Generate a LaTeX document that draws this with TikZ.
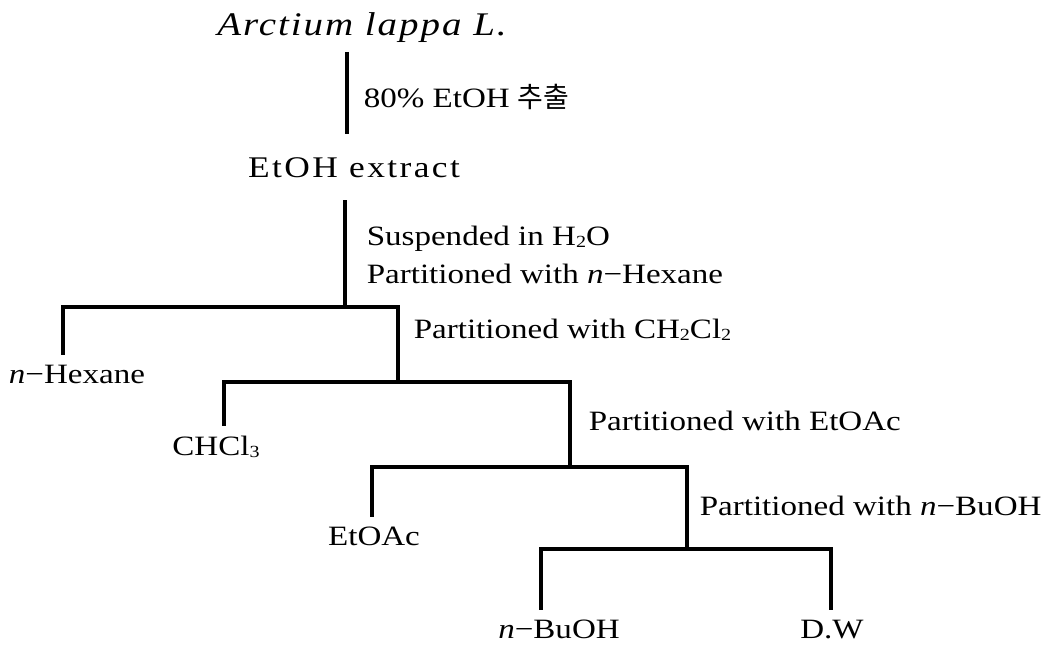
\documentclass[tikz,border=0pt]{standalone}
\usepackage{fontspec}
\setmainfont[FakeStretch=1.18]{Liberation Serif}
\newfontfamily\kofont{Noto Sans CJK KR}
\newcommand{\chemsub}[1]{\raisebox{-0.2ex}{\fontsize{17}{17}\selectfont #1}}
\begin{document}
\begin{tikzpicture}[x=1pt,y=-1pt,line width=3.6pt,font=\fontsize{28}{34}\selectfont,
    every node/.style={inner sep=0pt},
    steplabel/.style={anchor=base west},
    fraction/.style={anchor=base,inner ysep=8pt}]
  \useasboundingbox (0,0) rectangle (1043,646);
  \node[anchor=base,inner ysep=8pt,font=\fontsize{33}{36}\selectfont\itshape\addfontfeature{LetterSpace=6}] (plant) at (362,35) {Arctium lappa L.};
  \node[anchor=base,inner ysep=21pt,font=\fontsize{30}{34}\selectfont\addfontfeature{LetterSpace=8}] (extract) at (354,177) {EtOH extract};
  \node[steplabel] (ethanol) at (362,107) {80\% EtOH {\kofont 추출}};
  \node[steplabel] (suspend) at (365,245) {Suspended in H\chemsub{2}O};
  \node[steplabel] (parthex) at (365,283) {Partitioned with \textit{n}−Hexane};
  \node[steplabel] (partdcm) at (412,338) {Partitioned with CH\chemsub{2}Cl\chemsub{2}};
  \node[steplabel] (partea) at (587,430) {Partitioned with EtOAc};
  \node[steplabel] (partbu) at (698,515) {Partitioned with \textit{n}−BuOH};
  \node[fraction] (hexane) at (77,383) {\textit{n}−Hexane};
  \node[fraction] (chcl) at (216,455) {CHCl\chemsub{3}};
  \node[fraction] (etoac) at (374,545) {EtOAc};
  \node[fraction] (buoh) at (559,638) {\textit{n}−BuOH};
  \node[fraction] (dw) at (832,638) {D.W};
  % split points
  \coordinate (j0) at (345,307);
  \coordinate (j1) at (398,382);
  \coordinate (j2) at (570,467);
  \coordinate (j3) at (687,549);
  \coordinate (k0) at (63,307);
  \coordinate (k1) at (224,382);
  \coordinate (k2) at (372,467);
  \coordinate (k3) at (541,549);
  \coordinate (k4) at (831,549);
  \draw (plant.south -| 347,0) -- (extract.north -| 347,0);
  \draw (extract.south -| j0) -- (j0);
  \foreach \f/\k/\j in {hexane/k0/j1,chcl/k1/j2,etoac/k2/j3}
    \draw (\f.north -| \k) -- (\k) -- (\k -| \j) -- (\j);
  \draw (buoh.north -| k3) -- (k3) -- (k4) -- (dw.north -| k4);
\end{tikzpicture}
\end{document}
